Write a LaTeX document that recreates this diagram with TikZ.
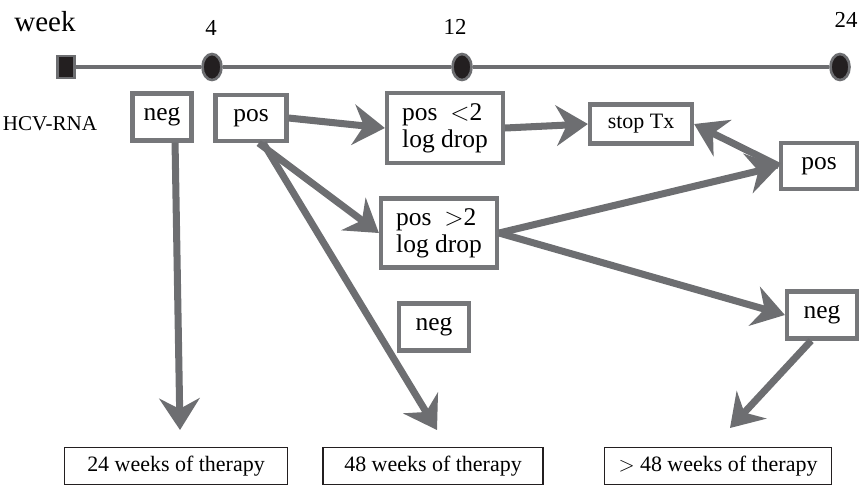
\documentclass[tikz,border=0pt]{standalone}
\usepackage{fontspec}
\setmainfont{Liberation Serif}
\usepackage{tikz}
\usetikzlibrary{shapes,arrows.meta}
\definecolor{arrowgray}{RGB}{109,110,113}
\definecolor{boxgray}{RGB}{118,119,122}
\definecolor{dotfill}{RGB}{35,31,32}
\begin{document}
\begin{tikzpicture}[x=0.02cm,y=-0.02cm]

	\tikzstyle{result}=[draw=boxgray,line width=2.4pt,fill=white,rectangle,align=left,inner sep=2pt,font=\fontsize{14.5}{15.5}\selectfont]
	\tikzstyle{therapy}=[draw=dotfill,line width=0.8pt,rectangle,minimum height=0.74cm,font=\fontsize{12.5}{14}\selectfont]
	\tikzstyle{flow}=[draw=arrowgray,line width=4pt,-{Stealth[length=18pt,width=23pt,inset=6pt]}]
	\tikzstyle{label}=[font=\fontsize{13}{15}\selectfont]

	\useasboundingbox (0,0) rectangle (859,485);

	% time line
	\node[label,font=\fontsize{16.5}{18}\selectfont] (wk) at (45,22) {week};
	\node[label] (w4) at (211,28) {4};
	\node[label] (w12) at (455,27) {12};
	\node[label] (w24) at (846,20) {24};

	\node[draw=arrowgray,fill=dotfill,line width=1.5pt,rectangle,minimum width=0.34cm,minimum height=0.44cm,inner sep=0pt] (start) at (66,67) {};
	\node[draw=arrowgray,fill=dotfill,line width=1.5pt,ellipse,minimum width=0.38cm,minimum height=0.52cm,inner sep=0pt] (e4) at (212,67) {};
	\node[draw=arrowgray,fill=dotfill,line width=1.5pt,ellipse,minimum width=0.38cm,minimum height=0.52cm,inner sep=0pt] (e12) at (462,67) {};
	\node[draw=arrowgray,fill=dotfill,line width=1.5pt,ellipse,minimum width=0.38cm,minimum height=0.52cm,inner sep=0pt] (e24) at (840,67) {};
	\draw[arrowgray,line width=2.2pt] (start) -- (e4) -- (e12) -- (e24);

	\node[label,font=\fontsize{12}{14}\selectfont] (hcv) at (50,124) {HCV-RNA};

	% test results
	\node[result,minimum width=1.18cm,minimum height=0.94cm] (neg1) at (162,117) {neg};
	\node[result,minimum width=1.42cm,minimum height=0.92cm] (pos1) at (251,118) {pos};
	\node[result,minimum width=2.32cm,minimum height=1.4cm] (posl) at (445,128) {pos\ \ {$<$}2\\log drop};
	\node[result,minimum width=2.04cm,minimum height=0.78cm,font=\fontsize{12.5}{14}\selectfont] (stop) at (641,124) {stop Tx};
	\node[result,minimum width=1.52cm,minimum height=0.92cm] (pos2) at (819,166) {pos};
	\node[result,minimum width=2.32cm,minimum height=1.38cm] (posg) at (439,233) {pos\ \ {$>$}2\\log drop};
	\node[result,minimum width=1.4cm,minimum height=0.94cm] (neg2) at (434,327) {neg};
	\node[result,minimum width=1.4cm,minimum height=0.94cm] (neg3) at (822,315) {neg};

	% therapy length
	\node[therapy,minimum width=4.46cm] (t24) at (176,466) {24 weeks of therapy};
	\node[therapy,minimum width=4.4cm] (t48) at (433,466) {48 weeks of therapy};
	\node[therapy,minimum width=4.54cm] (t48p) at (718,466) {{$>$} 48 weeks of therapy};

	\coordinate (end24) at (180,430);
	\coordinate (end48) at (437,430);
	\coordinate (end48p) at (730,428);

	\draw[flow] (neg1.-63) -- (end24);
	\draw[flow] (pos1.east) -- (posl.west);
	\draw[flow] (pos1.-73) -- (posg.west);
	\draw[flow] (pos1.-64) -- (end48);
	\draw[flow] (posl.east) -- (stop.west);
	\draw[flow] (posg.east) -- (pos2.west);
	\draw[flow] (pos2.west) -- (stop.east);
	\draw[flow] (posg.east) -- (neg3.west);
	\draw[flow] (neg3.-113) -- (end48p);

\end{tikzpicture}
\end{document}
